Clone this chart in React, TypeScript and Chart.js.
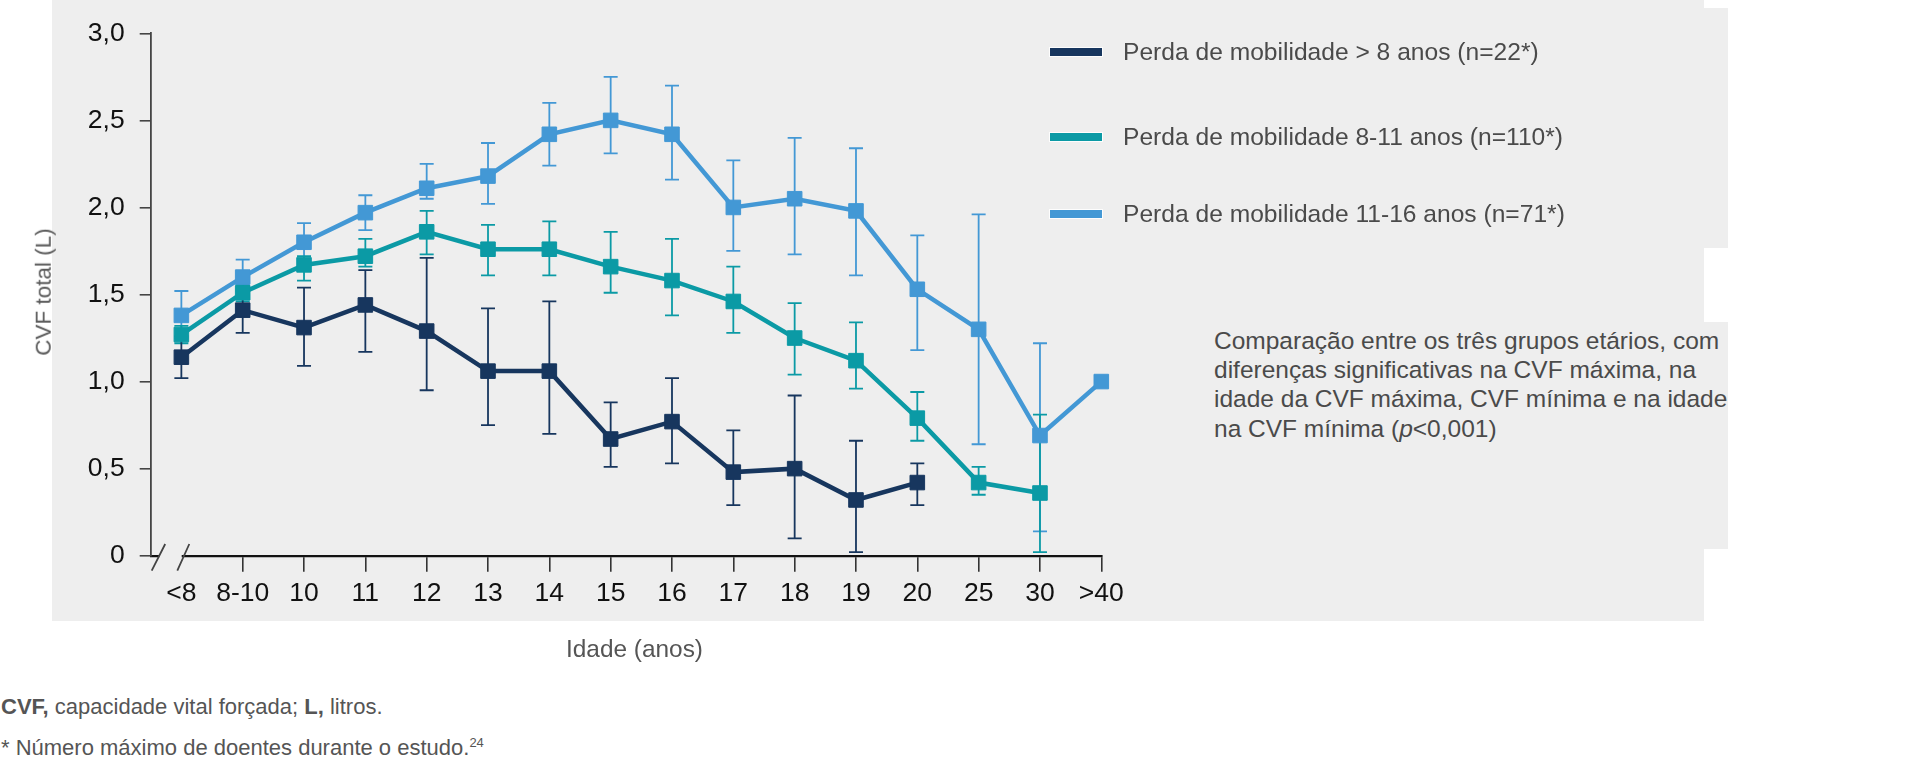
import React, { useEffect, useRef } from "react";
import { Chart, registerables } from "chart.js";

Chart.register(...registerables);

// ---------- data ----------
const categories = ["<8", "8-10", "10", "11", "12", "13", "14", "15", "16", "17", "18", "19", "20", "25", "30", ">40"];
const yTickValues = [0, 0.5, 1, 1.5, 2, 2.5, 3];
const yTickLabels = ["0", "0,5", "1,0", "1,5", "2,0", "2,5", "3,0"];

const seriesLabels = [
  "Perda de mobilidade > 8 anos (n=22*)",
  "Perda de mobilidade 8-11 anos (n=110*)",
  "Perda de mobilidade 11-16 anos (n=71*)",
];
const seriesColors = ["#17365e", "#0b9aa5", "#4398d5"];

// Perda > 8 anos (up to "20")
const navyMean = [1.14, 1.41, 1.31, 1.44, 1.29, 1.06, 1.06, 0.67, 0.77, 0.48, 0.5, 0.32, 0.42];
const navyLow = [1.02, 1.28, 1.09, 1.17, 0.95, 0.75, 0.7, 0.51, 0.53, 0.29, 0.1, 0.02, 0.29];
const navyHigh = [1.26, 1.53, 1.54, 1.64, 1.71, 1.42, 1.46, 0.88, 1.02, 0.72, 0.92, 0.66, 0.53];

// Perda 8-11 anos (up to "30")
const tealMean = [1.27, 1.51, 1.67, 1.72, 1.86, 1.76, 1.76, 1.66, 1.58, 1.46, 1.25, 1.12, 0.79, 0.42, 0.36];
const tealLow = [1.22, 1.46, 1.58, 1.66, 1.73, 1.61, 1.61, 1.51, 1.38, 1.28, 1.04, 0.96, 0.66, 0.35, 0.02];
const tealHigh = [1.32, 1.56, 1.72, 1.82, 1.98, 1.9, 1.92, 1.86, 1.82, 1.66, 1.45, 1.34, 0.94, 0.51, 0.81];

// Perda 11-16 anos (up to ">40")
const blueMean = [1.38, 1.6, 1.8, 1.97, 2.11, 2.18, 2.42, 2.5, 2.42, 2.0, 2.05, 1.98, 1.53, 1.3, 0.69, 1.0];
const blueLow = [1.25, 1.52, 1.7, 1.87, 2.05, 2.02, 2.24, 2.31, 2.16, 1.75, 1.73, 1.61, 1.18, 0.64, 0.14, null];
const blueHigh = [1.52, 1.7, 1.91, 2.07, 2.25, 2.37, 2.6, 2.75, 2.7, 2.27, 2.4, 2.34, 1.84, 1.96, 1.22, null];

const seriesMeans = [navyMean, tealMean, blueMean];
const seriesLows = [navyLow, tealLow, blueLow];
const seriesHighs = [navyHigh, tealHigh, blueHigh];

// ---------- plugins ----------
const errorBarPlugin = {
  id: "errorBars",
  beforeDatasetsDraw(chart: any) {
    const ctx = chart.ctx;
    const yScale = chart.scales.y;
    for (let d = chart.data.datasets.length - 1; d >= 0; d--) {
      const meta = chart.getDatasetMeta(d);
      const lows = seriesLows[d];
      const highs = seriesHighs[d];
      ctx.save();
      ctx.strokeStyle = seriesColors[d];
      ctx.lineWidth = 1.8;
      meta.data.forEach((pt: any, j: number) => {
        const lo = lows[j];
        const hi = highs[j];
        if (lo == null || hi == null) return;
        const yl = yScale.getPixelForValue(lo);
        const yh = yScale.getPixelForValue(hi);
        const x = pt.x;
        ctx.beginPath();
        ctx.moveTo(x, yl);
        ctx.lineTo(x, yh);
        ctx.moveTo(x - 7, yl);
        ctx.lineTo(x + 7, yl);
        ctx.moveTo(x - 7, yh);
        ctx.lineTo(x + 7, yh);
        ctx.stroke();
      });
      ctx.restore();
    }
  },
};

const axisBreakPlugin = {
  id: "axisBreak",
  afterDraw(chart: any) {
    const ctx = chart.ctx;
    const { left, bottom } = chart.chartArea;
    ctx.save();
    ctx.fillStyle = "#eeeeee";
    ctx.fillRect(left + 8.5, bottom - 3, 22.5, 6);
    ctx.strokeStyle = "#444";
    ctx.lineWidth = 1.8;
    ctx.beginPath();
    ctx.moveTo(left + 1, bottom + 15);
    ctx.lineTo(left + 14.5, bottom - 11.7);
    ctx.moveTo(left + 26.6, bottom + 15);
    ctx.lineTo(left + 38.6, bottom - 11.7);
    ctx.stroke();
    ctx.restore();
  },
};

const CANVAS_W = 1160;
const CANVAS_H = 640;
const PLOT_LEFT = 150.7;
const PLOT_RIGHT = 1101.3;
const PLOT_TOP = 33.3;
const PLOT_BOTTOM = 555.7;
const tickFont = { family: "'Liberation Sans', Arial, sans-serif", size: 26.5 };

function ChartCanvas() {
  const ref = useRef<HTMLCanvasElement | null>(null);
  useEffect(() => {
    if (!ref.current) return;
    const datasets = seriesMeans.map((arr, d) => ({
      label: seriesLabels[d],
      data: arr.map((v, i) => ({ x: i, y: v })),
      borderColor: seriesColors[d],
      backgroundColor: seriesColors[d],
      pointBackgroundColor: seriesColors[d],
      pointBorderColor: seriesColors[d],
      pointBorderWidth: 1,
      pointStyle: "rect",
      pointRadius: 10.3,
      borderWidth: 4.5,
      tension: 0,
      clip: false as any,
    }));
    const chart = new Chart(ref.current, {
      type: "line",
      data: { datasets },
      plugins: [errorBarPlugin, axisBreakPlugin],
      options: {
        animation: false,
        responsive: false,
        devicePixelRatio: 1,
        layout: {
          padding: { left: 0, top: PLOT_TOP, right: CANVAS_W - PLOT_RIGHT, bottom: 0 },
        },
        plugins: {
          legend: { display: false },
          tooltip: { enabled: false },
        },
        scales: {
          x: {
            type: "linear",
            min: -0.5,
            max: categories.length - 1,
            afterBuildTicks: (scale: any) => {
              scale.ticks = categories.map((_, i) => ({ value: i }));
            },
            afterFit: (scale: any) => {
              scale.height = CANVAS_H - PLOT_BOTTOM;
            },
            ticks: {
              autoSkip: false,
              maxRotation: 0,
              minRotation: 0,
              padding: 6,
              color: "#111",
              font: tickFont,
              callback: (value: any) => categories[Math.round(value)] ?? "",
            },
            grid: {
              display: true,
              drawOnChartArea: false,
              drawTicks: true,
              tickLength: 16,
              lineWidth: 1.6,
              color: (c: any) => (c.tick && c.tick.value === 0 ? "rgba(0,0,0,0)" : "#333"),
            },
            border: { display: true, color: "#111", width: 2.2 },
          },
          y: {
            type: "linear",
            min: 0,
            max: 3,
            afterBuildTicks: (scale: any) => {
              scale.ticks = yTickValues.map((v) => ({ value: v }));
            },
            afterFit: (scale: any) => {
              scale.width = PLOT_LEFT;
            },
            ticks: {
              padding: 15,
              color: "#111",
              font: tickFont,
              callback: (_v: any, index: number) => yTickLabels[index],
            },
            grid: {
              display: true,
              drawOnChartArea: false,
              drawTicks: true,
              tickLength: 11,
              lineWidth: 1.6,
              color: "#444",
            },
            border: { display: true, color: "#444", width: 1.8 },
          },
        },
      },
    });
    return () => chart.destroy();
  }, []);
  return (
    <canvas
      ref={ref}
      width={CANVAS_W}
      height={CANVAS_H}
      style={{ position: "absolute", left: 0, top: 0, width: CANVAS_W, height: CANVAS_H }}
    />
  );
}

const textFont = "'Liberation Sans', Arial, Helvetica, sans-serif";
const legendCenters = [51.7, 136.7, 214.3];
const panelColor = "#eeeeee";

export default function App() {
  return (
    <div
      style={{
        position: "absolute",
        left: 0,
        top: 0,
        width: 1920,
        height: 770,
        background: "#fff",
        overflow: "hidden",
        fontFamily: textFont,
      }}
    >
      {/* panels */}
      <div style={{ position: "absolute", left: 52, top: 0, width: 1704 - 52, height: 621, background: panelColor }} />
      <div style={{ position: "absolute", left: 1700, top: 8.3, width: 1727.7 - 1700, height: 247.7 - 8.3, background: panelColor }} />
      <div style={{ position: "absolute", left: 1700, top: 322.3, width: 1727.7 - 1700, height: 549.3 - 322.3, background: panelColor }} />

      <ChartCanvas />

      {/* y title */}
      <div
        style={{
          position: "absolute",
          left: 44,
          top: 292,
          transform: "translate(-50%, -50%) rotate(-90deg)",
          whiteSpace: "nowrap",
          fontSize: 22.5,
          lineHeight: 1,
          color: "#5a5a5a",
        }}
      >
        CVF total (L)
      </div>

      {/* x title */}
      <div
        style={{
          position: "absolute",
          left: 634.5,
          top: 649,
          transform: "translate(-50%, -50%)",
          whiteSpace: "nowrap",
          fontSize: 24.4,
          lineHeight: 1,
          color: "#555",
        }}
      >
        Idade (anos)
      </div>

      {/* legend */}
      {seriesLabels.map((lab, i) => (
        <React.Fragment key={lab}>
          <div
            style={{
              position: "absolute",
              left: 1049.5,
              top: legendCenters[i] - 4,
              width: 52.5,
              height: 8,
              background: seriesColors[i],
              boxShadow: "0 0 0 1px rgba(255,255,255,0.85)",
            }}
          />
          <div
            style={{
              position: "absolute",
              left: 1123,
              top: legendCenters[i],
              transform: "translateY(-50%)",
              whiteSpace: "nowrap",
              fontSize: 24.6,
              lineHeight: 1,
              color: "#4a4a4a",
            }}
          >
            {lab}
          </div>
        </React.Fragment>
      ))}

      {/* annotation */}
      <div
        style={{
          position: "absolute",
          left: 1214,
          top: 326,
          whiteSpace: "nowrap",
          fontSize: 24.5,
          lineHeight: "29.2px",
          color: "#4a4a4a",
        }}
      >
        Comparação entre os três grupos etários, com
        <br />
        diferenças significativas na CVF máxima, na
        <br />
        idade da CVF máxima, CVF mínima e na idade
        <br />
        na CVF mínima (<i>p</i>&lt;0,001)
      </div>

      {/* footnotes */}
      <div
        style={{
          position: "absolute",
          left: 1,
          top: 706.7,
          transform: "translateY(-50%)",
          whiteSpace: "nowrap",
          fontSize: 22,
          lineHeight: 1,
          color: "#555",
        }}
      >
        <b>CVF,</b> capacidade vital forçada; <b>L,</b> litros.
      </div>
      <div
        style={{
          position: "absolute",
          left: 1,
          top: 748,
          transform: "translateY(-50%)",
          whiteSpace: "nowrap",
          fontSize: 22,
          lineHeight: 1,
          color: "#555",
        }}
      >
        * Número máximo de doentes durante o estudo.
        <sup style={{ fontSize: 13, verticalAlign: "8px", lineHeight: 0 }}>24</sup>
      </div>
    </div>
  );
}
